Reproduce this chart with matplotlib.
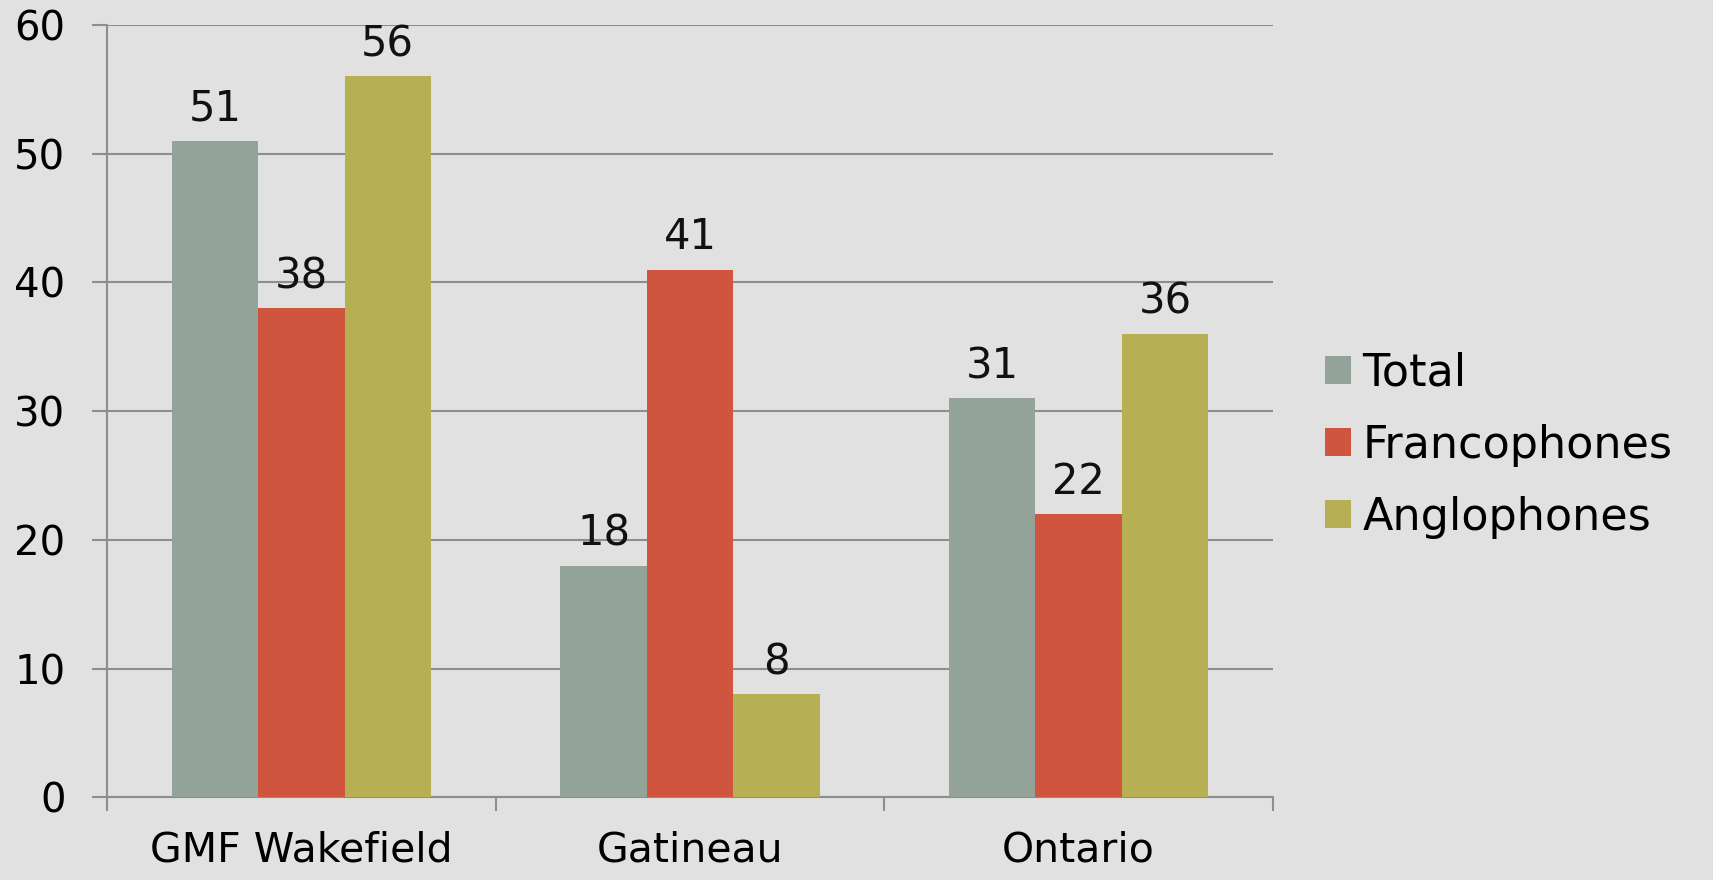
import matplotlib
matplotlib.use('Agg')
import matplotlib.pyplot as plt
import numpy as np

# data
categories = ['GMF Wakefield', 'Gatineau', 'Ontario']
series = ['Total', 'Francophones', 'Anglophones']
total = [51, 18, 31]
franco = [38, 41, 22]
anglo = [56, 8, 36]
colors = ['#93a399', '#d0553f', '#b6af53']

plt.rcParams['font.family'] = ['DejaVu Sans']
bg = '#e1e1e1'
grid_c = '#8e8e8e'

fig = plt.figure(figsize=(17.13, 8.8), dpi=100, facecolor=bg)
ax = fig.add_axes([0.0625, 0.0938, 0.6806, 0.8778], facecolor=bg)

x = np.arange(len(categories))
w = 1 / 4.5
for i, (vals, name) in enumerate(zip([total, franco, anglo], series)):
    bars = ax.bar(x + (i - 1) * w, vals, w, color=colors[i], label=name, zorder=3)
    ax.bar_label(bars, padding=8, fontsize=30, color='#111111')

ax.set_xlim(-0.5, 2.5)
ax.set_ylim(0, 60)
ax.set_yticks(np.arange(0, 61, 10))
ax.yaxis.grid(True, color=grid_c, linewidth=1.5, zorder=0)
ax.tick_params(axis='y', length=11, width=1.5, color=grid_c, pad=19, labelsize=29)

ax.set_xticks(x)
ax.set_xticklabels(categories)
ax.set_xticks(np.arange(-0.5, 2.6, 1), minor=True)
ax.tick_params(axis='x', which='major', length=0, pad=24, labelsize=29.5)
ax.tick_params(axis='x', which='minor', length=10, width=1.5, color=grid_c)

for s in ['top', 'right']:
    ax.spines[s].set_visible(False)
for s in ['left', 'bottom']:
    ax.spines[s].set_color(grid_c)
    ax.spines[s].set_linewidth(1.5)

leg = ax.legend(loc='center left', bbox_to_anchor=(1.01, 0.456), frameon=False,
                fontsize=32, handlelength=0.6, handleheight=0.6,
                handletextpad=0.25, labelspacing=0.65)

plt.savefig('out.png', dpi=100, facecolor=bg)
